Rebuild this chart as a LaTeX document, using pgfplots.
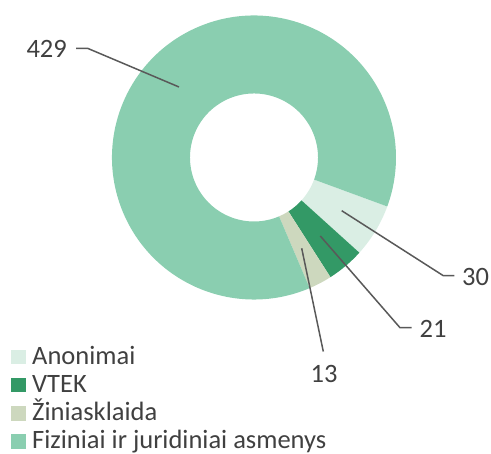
\documentclass[border=0pt]{standalone}
\usepackage{fontspec}
\setmainfont{Carlito}
\usepackage{pgfplots}
\pgfplotsset{compat=1.18}
\usepackage{pgfplotstable}

\definecolor{anon}{HTML}{DAEEE4}
\definecolor{vtek}{HTML}{339966}
\definecolor{zini}{HTML}{CDD8BE}
\definecolor{fiz}{HTML}{8ACEB0}
\definecolor{txtcol}{HTML}{404040}
\definecolor{linecol}{HTML}{595959}

\pgfplotstableread[col sep=comma]{
label,value,color
Anonimai,30,anon
VTEK,21,vtek
Žiniasklaida,13,zini
Fiziniai ir juridiniai asmenys,429,fiz
}\donut

% one ring sector plus its legend row, angles precomputed below
\newcommand\sector[1]{%
  \edef\temp{%
    \noexpand\fill[fill=\csname col#1\endcsname, shift={(axis cs:254,296.5)}]
    (\csname sa#1\endcsname:142pt)
    arc[start angle=\csname sa#1\endcsname, end angle=\csname ea#1\endcsname, radius=142pt]
    -- (\csname ea#1\endcsname:64pt)
    arc[start angle=\csname ea#1\endcsname, end angle=\csname sa#1\endcsname, radius=64pt]
    -- cycle;
    \noexpand\fill[fill=\csname col#1\endcsname]
      (axis cs:11,\csname ly#1\endcsname) rectangle (axis cs:26,\csname lt#1\endcsname);
    \noexpand\node[anchor=base west, inner sep=0pt, text=txtcol]
      at (axis cs:32,\csname ly#1\endcsname) {\csname lab#1\endcsname};}\temp}

% angles and legend rows from the table (in the preamble, so no stray spaces)
\pgfplotstablegetrowsof{\donut}
\pgfmathtruncatemacro\lastrow{\pgfplotsretval-1}
\xdef\total{0}
\foreach \i in {0,...,\lastrow}{%
  \pgfplotstablegetelem{\i}{value}\of\donut
  \pgfmathparse{\total+\pgfplotsretval}\xdef\total{\pgfmathresult}}
\xdef\curang{-20.2}
\foreach \i in {0,...,\lastrow}{%
  \pgfplotstablegetelem{\i}{value}\of\donut
  \expandafter\xdef\csname val\i\endcsname{\pgfplotsretval}%
  \pgfmathparse{\pgfplotsretval/\total*360}\let\sweep\pgfmathresult
  \expandafter\xdef\csname sa\i\endcsname{\curang}%
  \pgfmathparse{\curang-\sweep}\xdef\curang{\pgfmathresult}%
  \expandafter\xdef\csname ea\i\endcsname{\curang}%
  \pgfmathparse{89.7-28.2*\i}\expandafter\xdef\csname ly\i\endcsname{\pgfmathresult}%
  \pgfmathparse{104.2-28.2*\i}\expandafter\xdef\csname lt\i\endcsname{\pgfmathresult}%
  \pgfplotstablegetelem{\i}{color}\of\donut
  \expandafter\xdef\csname col\i\endcsname{\pgfplotsretval}%
  \pgfplotstablegetelem{\i}{label}\of\donut
  \expandafter\xdef\csname lab\i\endcsname{\pgfplotsretval}}

\begin{document}
\begin{tikzpicture}[font=\fontsize{26.5}{32}\selectfont]
\begin{axis}[
  hide axis, scale only axis,
  width=491pt, height=454pt,
  xmin=0, xmax=491, ymin=0, ymax=454,
  enlargelimits=false,
  clip=false,
]
\pgfplotsinvokeforeach{0,...,3}{\sector{#1}}
% leader lines and value labels
\draw[linecol, line width=1.5pt] (axis cs:179,367) -- (axis cs:88,405.5) -- (axis cs:76,405.5);
\draw[linecol, line width=1.5pt] (axis cs:341.7,243.3) -- (axis cs:443.3,178.3) -- (axis cs:454.3,178.3);
\draw[linecol, line width=1.5pt] (axis cs:320.3,218) -- (axis cs:400,126.3) -- (axis cs:411.7,126.3);
\draw[linecol, line width=1.5pt] (axis cs:301.7,205.7) -- (axis cs:323.3,102.5);
\node[anchor=east, inner sep=0pt, text=txtcol] at (axis cs:67,405) {\csname val3\endcsname};
\node[anchor=west, inner sep=0pt, text=txtcol] at (axis cs:462,176.5) {\csname val0\endcsname};
\node[anchor=west, inner sep=0pt, text=txtcol] at (axis cs:419.5,125.3) {\csname val1\endcsname};
\node[anchor=center, inner sep=0pt, text=txtcol] at (axis cs:324,80) {\csname val2\endcsname};
\coordinate (bl) at (axis cs:0,0);
\coordinate (tr) at (axis cs:491,454);
\end{axis}
\pgfresetboundingbox
\path (bl) rectangle (tr);
\end{tikzpicture}
\end{document}
